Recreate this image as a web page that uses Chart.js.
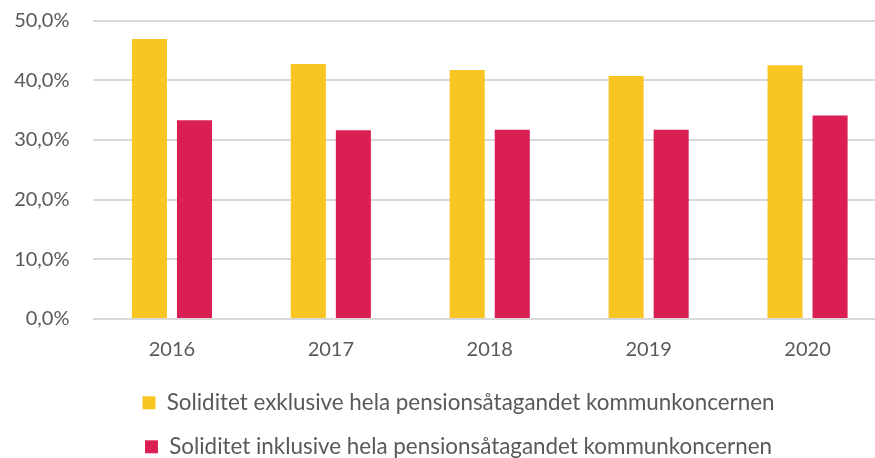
<!DOCTYPE html>
<html lang="sv">
<head>
<meta charset="utf-8">
<title>Soliditet 2016–2020</title>
<script src="https://cdn.jsdelivr.net/npm/chart.js@4/dist/chart.umd.min.js"></script>
<style>
  html, body { margin: 0; padding: 0; background: #fff; overflow: hidden; }
  #wrap { position: relative; width: 887px; height: 468px; }
</style>
</head>
<body>
<div id="wrap"><canvas id="soliditet"></canvas></div>
<script>
// Soliditet i procent per år
var years = ['2016', '2017', '2018', '2019', '2020'];
var exklusive = [46.9, 42.7, 41.7, 40.7, 42.5];
var inklusive = [33.3, 31.6, 31.7, 31.7, 34.1];
var yTicks = [0, 10, 20, 30, 40, 50];

var textColor = '#595959';
var font = 'Lato';

// nudge the legend rows a bit to the right of the canvas centre
var legendShift = {
	id: 'legendShift',
	afterLayout: function (chart) {
		chart.legend.left = 30;
	}
};

var ctx = document.getElementById('soliditet').getContext('2d');
var myChart = new Chart(ctx, {
	type: 'bar',
	data: {
		labels: years,
		datasets: [{
			label: 'Soliditet exklusive hela pensionsåtagandet kommunkoncernen',
			data: exklusive,
			backgroundColor: '#f9c523',
			categoryPercentage: 0.567,
			barPercentage: 0.778
		}, {
			label: 'Soliditet inklusive hela pensionsåtagandet kommunkoncernen',
			data: inklusive,
			backgroundColor: '#da1f55',
			categoryPercentage: 0.567,
			barPercentage: 0.778
		}]
	},
	plugins: [legendShift],
	options: {
		responsive: true,
		maintainAspectRatio: false,
		animation: false,
		layout: {
			padding: { top: 20.5, left: 0, right: 0, bottom: 0 }
		},
		scales: {
			x: {
				grid: { display: false, drawTicks: false },
				border: { display: false },
				ticks: {
					color: textColor,
					font: { family: font, size: 20 },
					padding: 19
				},
				afterFit: function (scale) { scale.height = 51; }
			},
			y: {
				min: yTicks[0],
				max: yTicks[yTicks.length - 1],
				afterBuildTicks: function (scale) {
					scale.ticks = yTicks.map(function (v) { return { value: v }; });
				},
				grid: { color: '#d9d9d9', lineWidth: 2, drawTicks: false },
				border: { display: false },
				ticks: {
					color: textColor,
					font: { family: font, size: 20 },
					padding: 23,
					callback: function (v) { return v.toFixed(1).replace('.', ',') + '%'; }
				},
				afterFit: function (scale) {
					scale.width = 92.5;
					scale.paddingTop = 0;
					scale.paddingBottom = 0;
				}
			}
		},
		plugins: {
			legend: {
				position: 'bottom',
				labels: {
					color: textColor,
					font: { family: font, size: 22.4 },
					boxWidth: 13,
					boxHeight: 13,
					padding: 21.6
				}
			},
			tooltip: { enabled: true }
		}
	}
});
</script>
</body>
</html>
